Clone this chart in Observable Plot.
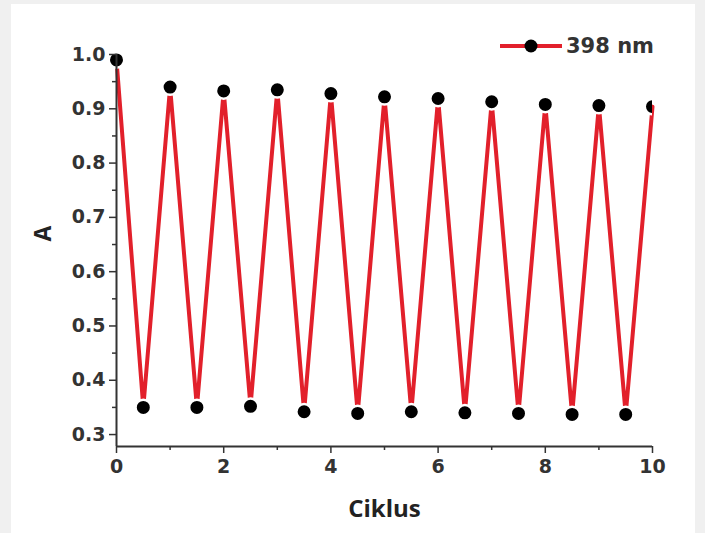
<!DOCTYPE html>
<html>
<head>
<meta charset="utf-8">
<script src="https://cdn.jsdelivr.net/npm/d3@7"></script>
<script src="https://cdn.jsdelivr.net/npm/@observablehq/plot@0.6"></script>
<style>
  html, body { margin: 0; padding: 0; background: #f0f0f0; }
  #box { position: absolute; left: 11px; top: 4px; width: 684px; height: 529px; background: #fff; }
  #legend { position: absolute; left: 489px; top: 30px; display: flex; align-items: center;
    font-family: "DejaVu Sans", sans-serif; font-weight: bold; font-size: 21px; color: #333; }
  #legend svg { margin-right: 4px; }
</style>
</head>
<body>
<div id="box"></div>
<script>
const cycles = [0, 0.5, 1, 1.5, 2, 2.5, 3, 3.5, 4, 4.5, 5, 5.5, 6, 6.5, 7, 7.5, 8, 8.5, 9, 9.5, 10];
const absorbance = [0.99, 0.35, 0.94, 0.35, 0.933, 0.352, 0.935, 0.342, 0.928, 0.339, 0.922,
                    0.342, 0.919, 0.34, 0.913, 0.339, 0.908, 0.337, 0.906, 0.337, 0.904];
const seriesName = "398 nm";
const xMajorTicks = [0, 2, 4, 6, 8, 10];
const xMinorTicks = [1, 3, 5, 7, 9];
const yMajorTicks = [0.3, 0.4, 0.5, 0.6, 0.7, 0.8, 0.9, 1.0];
const yMinorTicks = [0.35, 0.45, 0.55, 0.65, 0.75, 0.85, 0.95];

const data = cycles.map((c, i) => ({cycle: c, a: absorbance[i]}));
const lineColor = "#e2202b";
const axisColor = "#333";

const chart = Plot.plot({
  width: 684,
  height: 529,
  marginLeft: 105,
  marginRight: 43,
  marginTop: 50,
  marginBottom: 87,
  style: {background: "transparent", fontFamily: "DejaVu Sans, sans-serif", fontWeight: "bold", color: axisColor},
  x: {domain: [0, 10]},
  y: {domain: [0.278, 1.0]},
  marks: [
    Plot.line(data, {x: "cycle", y: "a", stroke: lineColor, strokeWidth: 4}),
    Plot.dot(data.filter(d => d.cycle < 10), {x: "cycle", y: "a", r: 7.75, fill: "#000", stroke: "#fff", strokeWidth: 2.5}),
    Plot.dot(data.filter(d => d.cycle >= 10), {x: "cycle", y: "a", r: 7.75, fill: "#000", stroke: "#fff", strokeWidth: 2.5, clip: true}),
    Plot.ruleX([0], {stroke: axisColor, strokeWidth: 2}),
    Plot.ruleY([0.278], {stroke: axisColor, strokeWidth: 2}),
    Plot.axisY(yMajorTicks, {tickSize: 7, tickPadding: 4, tickFormat: d3.format(".1f"), stroke: axisColor, strokeWidth: 1.5, fill: axisColor, label: null, fontSize: 19}),
    Plot.axisY(yMinorTicks, {tickSize: 4, text: null, stroke: axisColor, strokeWidth: 1.5, label: null}),
    Plot.axisX(xMajorTicks, {tickSize: 7, tickPadding: 6, stroke: axisColor, strokeWidth: 1.5, fill: axisColor, label: null, fontSize: 19}),
    Plot.axisX(xMinorTicks, {tickSize: 4, text: null, stroke: axisColor, strokeWidth: 1.5, label: null}),
    Plot.text(["A"], {frameAnchor: "left", dx: -73, dy: -9, rotate: -90, fontSize: 23, fontWeight: "bold", fontFamily: "Open Sans, sans-serif", fill: "#222"}),
    Plot.text(["Ciklus"], {frameAnchor: "bottom", dy: 70, fontSize: 24, fontWeight: "bold", fontFamily: "Open Sans, sans-serif", fill: "#222", textAnchor: "middle"})
  ]
});
d3.select(chart).selectAll('g[aria-label*="tick label"] text')
  .style("font-size", "19px").style("font-weight", "bold").style("font-family", "DejaVu Sans, sans-serif");
chart.style.position = "absolute";
chart.style.left = "0";
chart.style.top = "0";
document.getElementById("box").appendChild(chart);

const legend = document.createElement("div");
legend.id = "legend";
legend.innerHTML = `<svg width="62" height="16"><line x1="0" y1="8" x2="62" y2="8" stroke="${lineColor}" stroke-width="4"/><circle cx="31" cy="8" r="6.5" fill="#000"/></svg><span>${seriesName}</span>`;
document.getElementById("box").appendChild(legend);
</script>
</body>
</html>
